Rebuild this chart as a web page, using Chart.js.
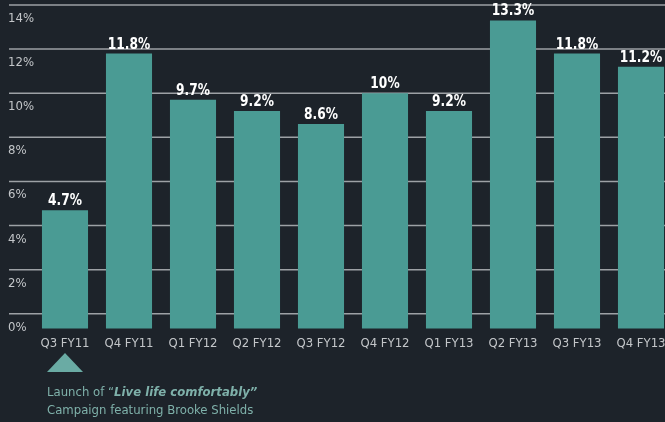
<!DOCTYPE html>
<html>
<head>
<meta charset="utf-8">
<script src="https://cdn.jsdelivr.net/npm/chart.js@4"></script>
<style>
  html, body { margin: 0; padding: 0; background: #1d232a; }
  #wrap { width: 665px; height: 422px; position: relative; }
</style>
</head>
<body>
<div id="wrap"><canvas id="growth"></canvas></div>
<script>
const quarters = ['Q3 FY11', 'Q4 FY11', 'Q1 FY12', 'Q2 FY12', 'Q3 FY12', 'Q4 FY12', 'Q1 FY13', 'Q2 FY13', 'Q3 FY13', 'Q4 FY13'];
const growth = [4.7, 11.8, 9.7, 9.2, 8.6, 10, 9.2, 13.3, 11.8, 11.2];
const valueLabels = ['4.7%', '11.8%', '9.7%', '9.2%', '8.6%', '10%', '9.2%', '13.3%', '11.8%', '11.2%'];
const yTicks = [0, 2, 4, 6, 8, 10, 12, 14];
const yTickLabels = ['0%', '2%', '4%', '6%', '8%', '10%', '12%', '14%'];

const FONT = '"Liberation Sans Narrow", "DejaVu Sans Condensed", "Arial Narrow", sans-serif';
const BASE = -0.66; // bars hang a little below the 0% line

// gridlines + y labels drawn under the bars
const gridPlugin = {
  id: 'grid',
  beforeDatasetsDraw(chart) {
    const ctx = chart.ctx;
    const y = chart.scales.y;
    ctx.save();
    ctx.strokeStyle = '#9da1a5';
    ctx.lineWidth = 1.5;
    ctx.fillStyle = '#c3c6c9';
    ctx.font = '13px ' + FONT;
    ctx.textAlign = 'left';
    ctx.textBaseline = 'alphabetic';
    yTicks.forEach((v, i) => {
      const py = y.getPixelForValue(v);
      ctx.beginPath();
      ctx.moveTo(9, py);
      ctx.lineTo(chart.width, py);
      ctx.stroke();
      ctx.fillText(yTickLabels[i], 8, py + 17);
    });
    ctx.restore();
  }
};

// value labels, triangle and note
const labelPlugin = {
  id: 'labels',
  afterDatasetsDraw(chart) {
    const ctx = chart.ctx;
    const meta = chart.getDatasetMeta(0);
    ctx.save();
    ctx.fillStyle = '#ffffff';
    ctx.font = 'bold 16px ' + FONT;
    ctx.textAlign = 'center';
    ctx.textBaseline = 'alphabetic';
    meta.data.forEach((bar, i) => {
      // squeeze horizontally to get the condensed look
      ctx.save();
      ctx.translate(bar.x, bar.y - 5);
      ctx.scale(0.85, 1);
      ctx.fillText(valueLabels[i], 0, 0);
      ctx.restore();
    });

    const first = meta.data[0];
    ctx.fillStyle = '#6aaba4';
    ctx.beginPath();
    ctx.moveTo(first.x, 353);
    ctx.lineTo(first.x + 18, 372);
    ctx.lineTo(first.x - 18, 372);
    ctx.closePath();
    ctx.fill();

    ctx.fillStyle = '#7fb1aa';
    ctx.textAlign = 'left';
    let x = 47;
    ctx.font = '13px ' + FONT;
    const a = 'Launch of \u201C';
    ctx.fillText(a, x, 396);
    x += ctx.measureText(a).width;
    ctx.font = 'italic bold 13px ' + FONT;
    ctx.fillText('Live life comfortably\u201D', x, 396);
    ctx.font = '13px ' + FONT;
    ctx.fillText('Campaign featuring Brooke Shields', 47, 414);
    ctx.restore();
  }
};

new Chart(document.getElementById('growth'), {
  type: 'bar',
  data: {
    labels: quarters,
    datasets: [{
      data: growth.map(v => [BASE, v]),
      backgroundColor: '#4a9b94',
      borderWidth: 0,
      categoryPercentage: 1,
      barPercentage: 0.72,
      clip: false
    }]
  },
  options: {
    responsive: true,
    maintainAspectRatio: false,
    animation: false,
    layout: { padding: { left: 65, right: 24, top: 5, bottom: 64 } },
    plugins: { legend: { display: false }, tooltip: { enabled: false } },
    scales: {
      x: {
        offset: false,
        grid: { display: false, drawTicks: false },
        border: { display: false },
        ticks: { color: '#c3c6c9', font: { family: FONT, size: 13 }, padding: 7, maxRotation: 0, autoSkip: false },
        afterFit(axis) {
          // edge labels already fit inside the layout padding
          axis.paddingLeft = 0;
          axis.paddingRight = 0;
        }
      },
      y: {
        display: false,
        min: BASE,
        max: 14
      }
    }
  },
  plugins: [gridPlugin, labelPlugin]
});
</script>
</body>
</html>
